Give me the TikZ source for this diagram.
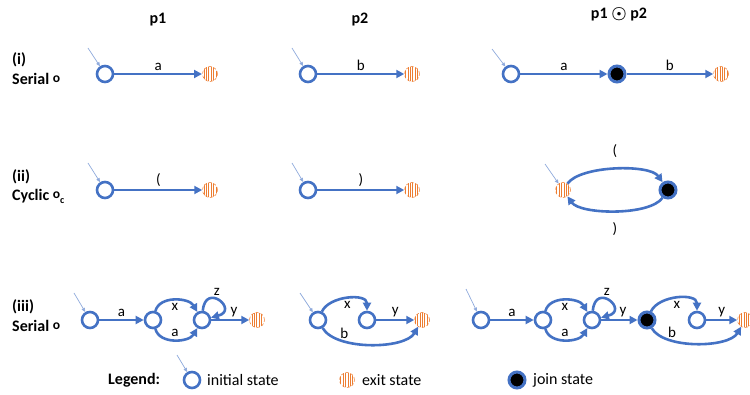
\documentclass[tikz,border=0pt]{standalone}
\usepackage{fontspec}
\setmainfont{Carlito}
\usetikzlibrary{positioning,patterns.meta,arrows.meta}

\definecolor{stblue}{HTML}{4472C4}
\definecolor{storange}{HTML}{ED7D31}
\definecolor{inblue}{HTML}{8FAADC}

\newcommand{\serop}{\raisebox{1.8pt}{\scalebox{0.85}{o}}}

\tikzstyle{instate}=[circle, draw=stblue, line width=2.6pt, minimum size=16pt, inner sep=0pt]
\tikzstyle{exitstate}=[circle, draw=storange, densely dashed, line width=0.5pt, pattern={Lines[angle=90,distance=2.4pt,line width=1pt]}, pattern color=storange, minimum size=15pt, inner sep=0pt]
\tikzstyle{joinstate}=[circle, draw=stblue, line width=3pt, fill=black, minimum size=16pt, inner sep=0pt]
\tikzstyle{trans}=[-{Triangle[length=8pt,width=8pt]}, stblue, line width=2.6pt]
\tikzstyle{entry}=[-{Triangle[length=4pt,width=3.5pt]}, inblue, line width=0.7pt]
\tikzstyle{lbl}=[font=\fontsize{15}{17}\selectfont, text=black, inner sep=2pt]
\tikzstyle{txt}=[font=\fontsize{16}{18}\selectfont, anchor=west, inner sep=0pt]
\tikzstyle{head}=[font=\fontsize{16}{18}\selectfont\bfseries, inner sep=0pt]

\begin{document}
\begin{tikzpicture}[x=1pt, y=-1pt]
  \useasboundingbox (0,0) rectangle (750,395);

  % column heads
  \node[head] (h1) at (158,20) {p1};
  \node[head] (h2) at (360,20) {p2};
  \node[head] (h3) at (619,14) {p1 {\boldmath$\odot$} p2};

  % row titles
  \node[head, anchor=west] (r1) at (12,60) {(i)};
  \node[head, anchor=west] (r1b) at (12,79) {Serial \serop};
  \node[head, anchor=west] (r2) at (12,177) {(ii)};
  \node[head, anchor=west] (r2b) at (12,196) {Cyclic \serop\raisebox{-3pt}{\fontsize{10}{10}\selectfont c}};
  \node[head, anchor=west] (r3) at (12,307) {(iii)};
  \node[head, anchor=west] (r3b) at (12,326) {Serial \serop};

  % (i) serial
  \node[instate] (i1) at (105,74) {};
  \node[exitstate] (e1) at (210,74) {};
  \coordinate (s1) at (88,48);
  \draw[entry] (s1) -- (i1);
  \draw[trans] (i1) -- node[above, lbl] {a} (e1);

  \node[instate] (i2) at (308,74) {};
  \node[exitstate] (e2) at (412,74) {};
  \coordinate (s2) at (292,48);
  \draw[entry] (s2) -- (i2);
  \draw[trans] (i2) -- node[above, lbl] {b} (e2);

  \node[instate] (i3) at (511,74) {};
  \node[joinstate] (j3) at (617,74) {};
  \node[exitstate] (e3) at (721,74) {};
  \coordinate (s3) at (492,49);
  \draw[entry] (s3) -- (i3);
  \draw[trans] (i3) -- node[above, lbl] {a} (j3);
  \draw[trans] (j3) -- node[above, lbl] {b} (e3);

  % (ii) cyclic
  \node[instate] (i4) at (105,190) {};
  \node[exitstate] (e4) at (210,190) {};
  \coordinate (s4) at (88,163);
  \draw[entry] (s4) -- (i4);
  \draw[trans] (i4) -- node[above, lbl] {(} (e4);

  \node[instate] (i5) at (308,190) {};
  \node[exitstate] (e5) at (412,190) {};
  \coordinate (s5) at (292,163);
  \draw[entry] (s5) -- (i5);
  \draw[trans] (i5) -- node[above, lbl] {)} (e5);

  \node[exitstate] (e6) at (563,190) {};
  \node[joinstate] (j6) at (668,190) {};
  \coordinate (s6) at (545,164);
  \draw[entry] (s6) -- (e6);
  \draw[trans] (e6) to[out=55,in=125,looseness=0.6] node[above=8pt, lbl] {(} (j6);
  \draw[trans] (j6) to[out=-125,in=-55,looseness=0.6] node[below=8pt, lbl] {)} (e6);

  % (iii) serial with branches
  \node[instate] (a1) at (90,320) {};
  \node[instate] (a2) at (153,320) {};
  \node[instate] (a3) at (202,320) {};
  \node[exitstate] (a4) at (257,320) {};
  \coordinate (s7) at (74,293);
  \draw[entry] (s7) -- (a1);
  \draw[trans] (a1) -- node[above, lbl] {a} (a2);
  \draw[trans] (a2) to[out=75,in=120] node[below, lbl] {x} (a3);
  \draw[trans] (a2) to[out=-75,in=-120] node[above, lbl] {a} (a3);
  \draw[trans] (a3) to[out=85,in=15,looseness=7] node[above, lbl, pos=0.45] {z} (a3);
  \draw[trans] (a3) -- node[above, lbl, pos=0.6] {y} (a4);

  \node[instate] (b1) at (318,320) {};
  \node[instate] (b2) at (367,320) {};
  \node[exitstate] (b3) at (422,320) {};
  \coordinate (s8) at (300,293);
  \draw[entry] (s8) -- (b1);
  \draw[trans] (b1) to[out=65,in=90] node[below, lbl] {x} (b2);
  \draw[trans] (b1) to[out=-60,in=-120,looseness=0.7] node[above, lbl, pos=0.28] {b} (b3);
  \draw[trans] (b2) -- node[above, lbl] {y} (b3);

  \node[instate] (c1) at (481,320) {};
  \node[instate] (c2) at (543,320) {};
  \node[instate] (c3) at (592,320) {};
  \node[joinstate] (c4) at (647,320) {};
  \node[instate] (c5) at (697,320) {};
  \node[exitstate] (c6) at (745,320) {};
  \coordinate (s9) at (466,289);
  \draw[entry] (s9) -- (c1);
  \draw[trans] (c1) -- node[above, lbl] {a} (c2);
  \draw[trans] (c2) to[out=75,in=120] node[below, lbl] {x} (c3);
  \draw[trans] (c2) to[out=-75,in=-120] node[above, lbl] {a} (c3);
  \draw[trans] (c3) to[out=85,in=15,looseness=7] node[above, lbl, pos=0.45] {z} (c3);
  \draw[trans] (c3) -- node[above, lbl, pos=0.6] {y} (c4);
  \draw[trans] (c4) to[out=65,in=90] node[below, lbl] {x} (c5);
  \draw[trans] (c4) to[out=-60,in=-120,looseness=0.7] node[above, lbl, pos=0.28] {b} (c6);
  \draw[trans] (c5) -- node[above, lbl] {y} (c6);

  % legend
  \node[head, anchor=west] (leg) at (108,380) {Legend:};
  \node[instate] (l1) at (192,380) {};
  \coordinate (s10) at (177,355);
  \draw[entry] (s10) -- (l1);
  \node[txt] (t1) at (207,380) {initial state};
  \node[exitstate] (l2) at (347,380) {};
  \node[txt] (t2) at (362,380) {exit state};
  \node[joinstate] (l3) at (517,380) {};
  \node[txt] (t3) at (533,380) {join state};
\end{tikzpicture}
\end{document}
